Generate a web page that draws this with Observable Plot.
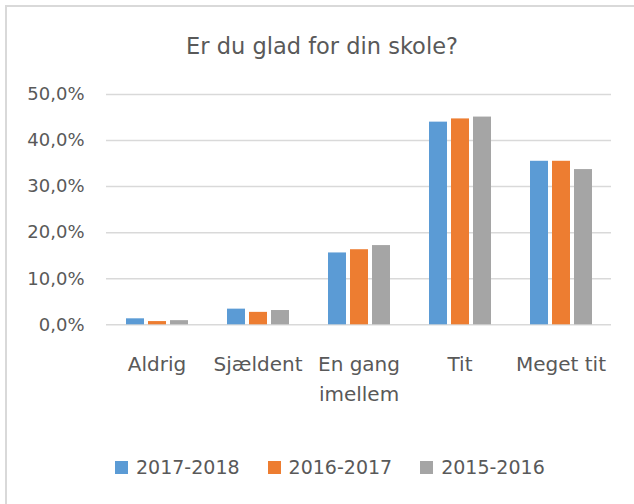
<!DOCTYPE html>
<html>
<head>
<meta charset="utf-8">
<script src="https://cdn.jsdelivr.net/npm/d3@7"></script>
<script src="https://cdn.jsdelivr.net/npm/@observablehq/plot@0.6"></script>
<style>
  html, body { margin: 0; padding: 0; background: #fff; }
  body { width: 634px; height: 504px; position: relative; overflow: hidden; font-family: "DejaVu Sans", sans-serif; color: #595959; }
  #frame { position: absolute; left: 5px; top: 5px; width: 700px; height: 600px; border-left: 2px solid #d9d9d9; border-top: 2px solid #d9d9d9; }
  #title { position: absolute; left: 0; width: 644px; top: 33px; text-align: center; font-size: 22.5px; line-height: 26px; color: #595959; }
  #chart { position: absolute; left: 0; top: 70px; }
  #legend { position: absolute; top: 456px; left: 115px; display: flex; align-items: center; font-size: 19px; color: #595959; }
  .item { display: flex; align-items: center; margin-right: 28px; }
  .sw { width: 13px; height: 13px; margin-right: 8px; }
</style>
</head>
<body>
<div id="frame"></div>
<div id="title">Er du glad for din skole?</div>
<div id="chart"></div>
<div id="legend"></div>
<script>
const categories = ["Aldrig", "Sjældent", "En gang imellem", "Tit", "Meget tit"];
const categoryLabels = ["Aldrig", "Sjældent", "En gang\nimellem", "Tit", "Meget tit"];
const series = ["2017-2018", "2016-2017", "2015-2016"];
const colors = ["#5B9BD5", "#ED7D31", "#A5A5A5"];
const values2017_2018 = [1.3, 3.4, 15.6, 44.0, 35.5];
const values2016_2017 = [0.7, 2.7, 16.3, 44.7, 35.5];
const values2015_2016 = [0.9, 3.1, 17.2, 45.1, 33.7];
const yTicks = [0, 10, 20, 30, 40, 50];

const seriesValues = [values2017_2018, values2016_2017, values2015_2016];
const data = [];
categories.forEach((c, i) => {
  series.forEach((s, j) => {
    data.push({category: c, series: s, value: seriesValues[j][i]});
  });
});
const labelOf = new Map(categories.map((c, i) => [c, categoryLabels[i]]));

const chart = Plot.plot({
  width: 634,
  height: 365,
  marginTop: 24,
  marginBottom: 110.7,
  marginLeft: 105,
  marginRight: 23,
  style: {fontFamily: "DejaVu Sans, sans-serif", color: "#595959", background: "transparent", overflow: "visible"},
  fx: {domain: categories, paddingInner: 0, paddingOuter: 0, label: null},
  x: {domain: series, paddingInner: 0.2, paddingOuter: 0.85, axis: null},
  y: {domain: [0, 50], axis: null},
  color: {domain: series, range: colors},
  marks: [
    Plot.gridY(yTicks, {stroke: "#d9d9d9", strokeOpacity: 1, strokeWidth: 1.5}),
    Plot.barY(data, {fx: "category", x: "series", y: "value", fill: "series", insetLeft: 0, insetRight: 0}),
    Plot.axisY(yTicks, {
      anchor: "left", tickSize: 0, tickPadding: 22, fontSize: 18, fill: "#595959",
      tickFormat: d => d.toFixed(1).replace(".", ",") + "%", label: null
    }),
    Plot.axisFx({
      anchor: "bottom", tickSize: 0, tickPadding: 24.5, fontSize: 20, fill: "#595959",
      lineHeight: 1.5, tickFormat: d => labelOf.get(d), label: null
    })
  ]
});
document.getElementById("chart").appendChild(chart);

const legend = document.getElementById("legend");
series.forEach((s, j) => {
  const item = document.createElement("div");
  item.className = "item";
  const sw = document.createElement("div");
  sw.className = "sw";
  sw.style.background = colors[j];
  const t = document.createElement("span");
  t.textContent = s;
  item.appendChild(sw);
  item.appendChild(t);
  legend.appendChild(item);
});
</script>
</body>
</html>
